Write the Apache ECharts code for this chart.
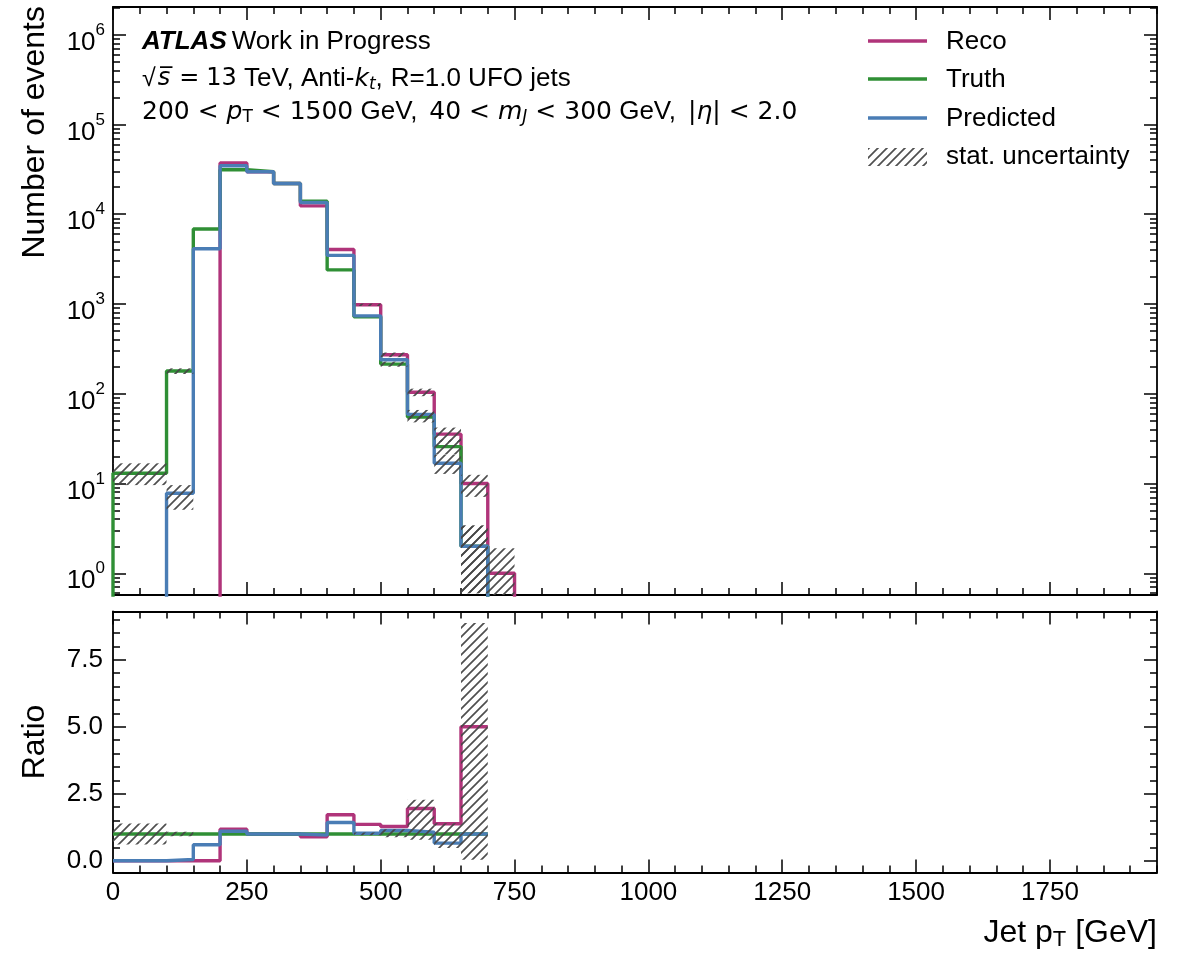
<!DOCTYPE html>
<html>
<head>
<meta charset="utf-8">
<script src="https://cdn.jsdelivr.net/npm/echarts@6/dist/echarts.min.js"></script>
<style>
  html, body { margin: 0; padding: 0; background: #ffffff; }
  #chart { width: 1183px; height: 954px; }
</style>
</head>
<body>
<div id="chart"></div>
<script>
// ---- histogram binning (GeV) ----
const binEdges = [0, 50, 100, 150, 200, 250, 300, 350, 400, 450, 500, 550, 600, 650, 700, 750];

// ---- event counts per bin ----
const recoCounts  = [0, 0, 0, 0, 37200, 29800, 22000, 12400, 4050, 980, 272, 104, 35.5, 10, 1];
const truthCounts = [13, 13, 179, 6840, 31300, 29800, 22000, 14000, 2400, 720, 214, 55, 25.8, 2, 0];
const predCounts  = [0, 0, 7.8, 4120, 34700, 29800, 22000, 13500, 3480, 738, 239, 59, 16.8, 2, 0];

// ---- statistical uncertainty bands (null where negligible) ----
const recoErrLow   = [null, null, null, null, null, null, null, null, null, 950, 256, 94, 29, 7.1, 0.3];
const recoErrHigh  = [null, null, null, null, null, null, null, null, null, 1010, 288, 114, 42, 12.5, 1.9];
const truthErrLow  = [9.6, 9.6, 166, null, null, null, null, null, null, null, 200, 48, 21, 0.6, null];
const truthErrHigh = [16.8, 16.8, 192, null, null, null, null, null, null, null, 228, 62, 31, 3.4, null];
const predErrLow   = [null, null, 5.1, null, null, null, null, null, null, null, null, 52, 12.8, 0.6, null];
const predErrHigh  = [null, null, 9.6, null, null, null, null, null, null, null, null, 66, 20.8, 3.4, null];

// ---- ratio to truth (bins 0-700 GeV) ----
const ratioReco  = [0, 0, 0, 0, 1.18, 1.0, 1.0, 0.9, 1.72, 1.36, 1.28, 1.95, 1.38, 5.0];
const ratioTruth = [1, 1, 1, 1, 1, 1, 1, 1, 1, 1, 1, 1, 1, 1];
const ratioPred  = [0, 0, 0.05, 0.6, 1.1, 1.0, 1.0, 0.96, 1.43, 1.03, 1.13, 1.07, 0.66, 1.0];
const ratioErrLow  = [0.61, 0.61, 0.92, null, null, null, null, null, null, 0.95, 0.88, 0.79, 0.48, 0.04];
const ratioErrHigh = [1.39, 1.39, 1.08, null, null, null, null, null, null, 1.06, 1.18, 2.28, 1.40, 8.87];

// ---- tick labels ----
const xTickLabels = [0, 250, 500, 750, 1000, 1250, 1500, 1750];
const logTickExponents = [0, 1, 2, 3, 4, 5, 6];
const ratioTickLabels = [0, 2.5, 5, 7.5];

// ---- axis ranges ----
const X_MIN = 0, X_MAX = 1950;
const LOG_MIN = -0.242, LOG_MAX = 6.309;   // log10(events)
const R_MIN = -0.436, R_MAX = 9.30;
const FLOOR = -3;                          // empty bins fall below the axis

const COLORS = { reco: '#b0347a', truth: '#2f8f35', pred: '#4a7db5' };
const FONT = 'Liberation Sans, Arial, sans-serif';
const MATH = 'DejaVu Sans, sans-serif';
const BLACK = '#000000';
const LINE_W = 3.4;

const lg = v => (v > 0 ? Math.log10(v) : FLOOR);

// step outline of a histogram: each bin contributes its two edges
function stepPoints(counts, useLog) {
  const pts = [];
  if (useLog) pts.push([binEdges[0], FLOOR]);
  counts.forEach((c, i) => {
    const y = useLog ? lg(c) : c;
    pts.push([binEdges[i], y], [binEdges[i + 1], y]);
  });
  if (useLog) pts.push([binEdges[counts.length], FLOOR]);
  return pts;
}

function bandItems(lo, hi, useLog) {
  const out = [];
  lo.forEach((l, i) => {
    if (l == null || hi[i] == null) return;
    out.push(useLog ? [binEdges[i], binEdges[i + 1], lg(l), lg(hi[i])]
                    : [binEdges[i], binEdges[i + 1], l, hi[i]]);
  });
  return out;
}

// diagonal hatch tile
function makeHatch() {
  const s = 9;
  const c = document.createElement('canvas');
  c.width = s; c.height = s;
  const ctx = c.getContext('2d');
  ctx.strokeStyle = 'rgba(70,70,70,0.95)';
  ctx.lineWidth = 1.7;
  ctx.beginPath();
  ctx.moveTo(0, s); ctx.lineTo(s, 0);
  ctx.moveTo(-2, 2); ctx.lineTo(2, -2);
  ctx.moveTo(s - 2, s + 2); ctx.lineTo(s + 2, s - 2);
  ctx.stroke();
  return c;
}
const hatchFill = { image: makeHatch(), repeat: 'repeat' };

// tick positions
const xMajor = xTickLabels.slice();
const xMinor = [];
for (let v = 0; v <= X_MAX; v += 50) if (v % 250 !== 0) xMinor.push(v);
const logMajor = logTickExponents.slice();
const logMinor = [];
for (let e = -1; e <= 6; e++) {
  for (let k = 2; k <= 9; k++) {
    const t = Math.log10(k) + e;
    if (t > LOG_MIN && t < LOG_MAX) logMinor.push(t);
  }
}
const rMajor = ratioTickLabels.slice();
const rMinor = [];
for (let v = 0; v <= 9.0001; v += 0.5) {
  const r = Math.round(v * 10) / 10;
  if (!rMajor.includes(r)) rMinor.push(r);
}

const lineStyleAxis = { show: true, onZero: false, lineStyle: { color: BLACK, width: 1.8 } };
const noLine = { show: false, onZero: false };
const tickStyle = { color: BLACK, width: 1.5 };
const TICK_FS = 26;

function makeXAxes(grid, labels) {
  const base = { type: 'value', gridIndex: grid, min: X_MIN, max: X_MAX, splitLine: { show: false } };
  const label = labels
    ? { show: true, customValues: xTickLabels, margin: 7, color: BLACK, fontSize: TICK_FS, fontFamily: FONT,
        formatter: v => String(v) }
    : { show: false };
  return [
    Object.assign({}, base, { position: 'bottom', axisLine: lineStyleAxis,
      axisTick: { show: true, inside: true, length: 13, lineStyle: tickStyle, customValues: xMajor }, axisLabel: label }),
    Object.assign({}, base, { position: 'bottom', axisLine: noLine,
      axisTick: { show: true, inside: true, length: 7, lineStyle: tickStyle, customValues: xMinor }, axisLabel: { show: false } }),
    Object.assign({}, base, { position: 'top', axisLine: lineStyleAxis,
      axisTick: { show: true, inside: true, length: 13, lineStyle: tickStyle, customValues: xMajor }, axisLabel: { show: false } }),
    Object.assign({}, base, { position: 'top', axisLine: noLine,
      axisTick: { show: true, inside: true, length: 7, lineStyle: tickStyle, customValues: xMinor }, axisLabel: { show: false } })
  ];
}

function makeYAxes(grid, min, max, major, minor, label) {
  const base = { type: 'value', gridIndex: grid, min: min, max: max, splitLine: { show: false } };
  return [
    Object.assign({}, base, { position: 'left', axisLine: lineStyleAxis,
      axisTick: { show: true, inside: true, length: 13, lineStyle: tickStyle, customValues: major }, axisLabel: label }),
    Object.assign({}, base, { position: 'left', axisLine: noLine,
      axisTick: { show: true, inside: true, length: 7, lineStyle: tickStyle, customValues: minor }, axisLabel: { show: false } }),
    Object.assign({}, base, { position: 'right', axisLine: lineStyleAxis,
      axisTick: { show: true, inside: true, length: 13, lineStyle: tickStyle, customValues: major }, axisLabel: { show: false } }),
    Object.assign({}, base, { position: 'right', axisLine: noLine,
      axisTick: { show: true, inside: true, length: 7, lineStyle: tickStyle, customValues: minor }, axisLabel: { show: false } })
  ];
}

const logLabel = {
  show: true, customValues: logTickExponents, margin: 8, fontFamily: FONT, color: BLACK,
  formatter: v => '{b|10}{s|' + Math.round(v) + '}',
  rich: {
    b: { fontSize: TICK_FS, fontFamily: FONT, color: BLACK, padding: [16, 0, 0, 0] },
    s: { fontSize: 17, fontFamily: FONT, color: BLACK, padding: [0, 0, 9, 0] }
  }
};
const ratioLabel = {
  show: true, customValues: ratioTickLabels, margin: 10, fontSize: TICK_FS, fontFamily: FONT, color: BLACK,
  formatter: v => Number(v).toFixed(1)
};

function histLine(name, pts, color, xi, yi, z) {
  return {
    name: name, type: 'line', xAxisIndex: xi, yAxisIndex: yi, data: pts,
    symbol: 'none', showSymbol: false, clip: true, z: z,
    lineStyle: { color: color, width: LINE_W }, itemStyle: { color: color }
  };
}

function hatchSeries(items, xi, yi) {
  return {
    type: 'custom', xAxisIndex: xi, yAxisIndex: yi, data: items, z: 5, clip: true,
    encode: { x: [0, 1], y: [2, 3] },
    renderItem: function (params, api) {
      const p0 = api.coord([api.value(0), api.value(3)]);
      const p1 = api.coord([api.value(1), api.value(2)]);
      const cs = params.coordSys;
      const rect = echarts.graphic.clipRectByRect(
        { x: p0[0], y: p0[1], width: p1[0] - p0[0], height: p1[1] - p0[1] },
        { x: cs.x, y: cs.y, width: cs.width, height: cs.height });
      return rect && { type: 'rect', shape: rect, style: { fill: hatchFill, stroke: null } };
    }
  };
}

const textBase = { fontFamily: FONT, fill: BLACK };
const LEG_FS = 26;

const legendEntries = [
  { label: 'Reco', color: COLORS.reco, y: 41 },
  { label: 'Truth', color: COLORS.truth, y: 79 },
  { label: 'Predicted', color: COLORS.pred, y: 118 }
];
const legendGraphics = [];
legendEntries.forEach(e => {
  legendGraphics.push({ type: 'line', shape: { x1: 868, y1: e.y, x2: 927, y2: e.y },
    style: { stroke: e.color, lineWidth: LINE_W } });
  legendGraphics.push({ type: 'text', x: 946, y: e.y + 1,
    style: Object.assign({}, textBase, { text: e.label, fontSize: LEG_FS, verticalAlign: 'middle' }) });
});
legendGraphics.push({ type: 'rect', shape: { x: 868, y: 148, width: 59, height: 18 },
  style: { fill: hatchFill, stroke: null } });
legendGraphics.push({ type: 'text', x: 946, y: 157,
  style: Object.assign({}, textBase, { text: 'stat. uncertainty', fontSize: LEG_FS, verticalAlign: 'middle' }) });

const INFO_FS = 26;
const MATH_FS = 25;
const infoRich = {
  a: { fontFamily: FONT, fontSize: INFO_FS, fontWeight: 'bold', fontStyle: 'italic', color: BLACK, padding: [0, 5, 0, 0] },
  r: { fontFamily: FONT, fontSize: INFO_FS, color: BLACK },
  rg: { fontFamily: FONT, fontSize: INFO_FS, color: BLACK, padding: [0, 12, 0, 0] },
  rc: { fontFamily: FONT, fontSize: INFO_FS, color: BLACK, padding: [0, 0, 0, 8] },
  sq: { fontFamily: FONT, fontSize: 25, color: BLACK },
  m: { fontFamily: MATH, fontSize: MATH_FS, color: BLACK },
  eq: { fontFamily: MATH, fontSize: 24, color: BLACK, padding: [0, 0, 0, 9] },
  n: { fontFamily: MATH, fontSize: 24, color: BLACK, padding: [0, 0, 0, 7] },
  i: { fontFamily: MATH, fontSize: MATH_FS, fontStyle: 'italic', color: BLACK },
  is: { fontFamily: MATH, fontSize: 24, fontStyle: 'italic', color: BLACK, padding: [0, 0, 0, 2] },
  sub: { fontFamily: MATH, fontSize: 17, color: BLACK, padding: [12, 0, 0, 0] },
  subi: { fontFamily: MATH, fontSize: 17, fontStyle: 'italic', color: BLACK, padding: [12, 0, 0, 0] }
};

const chart = echarts.init(document.getElementById('chart'), null, { renderer: 'canvas' });
chart.setOption({
  animation: false,
  backgroundColor: '#ffffff',
  grid: [
    { left: 113, right: 26, top: 7, height: 588 },
    { left: 113, right: 26, top: 611.5, height: 261 }
  ],
  xAxis: makeXAxes(0, false).concat(makeXAxes(1, true)),
  yAxis: makeYAxes(0, LOG_MIN, LOG_MAX, logMajor, logMinor, logLabel)
    .concat(makeYAxes(1, R_MIN, R_MAX, rMajor, rMinor, ratioLabel)),
  series: [
    histLine('Reco', stepPoints(recoCounts, true), COLORS.reco, 0, 0, 2),
    histLine('Truth', stepPoints(truthCounts, true), COLORS.truth, 0, 0, 3),
    histLine('Predicted', stepPoints(predCounts, true), COLORS.pred, 0, 0, 4),
    hatchSeries(bandItems(recoErrLow, recoErrHigh, true), 0, 0),
    hatchSeries(bandItems(truthErrLow, truthErrHigh, true), 0, 0),
    hatchSeries(bandItems(predErrLow, predErrHigh, true), 0, 0),
    histLine('Reco / Truth', stepPoints(ratioReco, false), COLORS.reco, 4, 4, 2),
    histLine('Truth / Truth', stepPoints(ratioTruth, false), COLORS.truth, 4, 4, 3),
    histLine('Predicted / Truth', stepPoints(ratioPred, false), COLORS.pred, 4, 4, 4),
    hatchSeries(bandItems(ratioErrLow, ratioErrHigh, false), 4, 4)
  ],
  graphic: [
    { type: 'text', x: 142, y: 42,
      style: Object.assign({}, textBase, { text: '{a|ATLAS}{r|Work in Progress}', rich: infoRich, verticalAlign: 'middle' }) },
    { type: 'text', x: 142, y: 79,
      style: Object.assign({}, textBase, {
        text: '{sq|\u221A}{is|s\u0305}{eq|=}{n|13}{r| TeV, Anti-}{i|k}{subi|t}{r|,}{rc|R=1.0 UFO jets}',
        rich: infoRich, verticalAlign: 'middle' }) },
    { type: 'text', x: 142, y: 112,
      style: Object.assign({}, textBase, {
        text: '{m|200 < }{i|p}{sub|T}{m| < 1500}{rg| GeV,}{m|40 < }{i|m}{subi|J}{m| < 300}{rg| GeV,}{m||}{i|\u03B7}{m|| < 2.0}',
        rich: infoRich, verticalAlign: 'middle' }) },
    { type: 'text', x: 35, y: 6, rotation: Math.PI / 2,
      style: Object.assign({}, textBase, { text: 'Number of events', fontSize: 32, align: 'right', verticalAlign: 'middle' }) },
    { type: 'text', x: 35, y: 742, rotation: Math.PI / 2,
      style: Object.assign({}, textBase, { text: 'Ratio', fontSize: 32, align: 'center', verticalAlign: 'middle' }) },
    { type: 'text', x: 1157, y: 933,
      style: Object.assign({}, textBase, {
        text: '{t|Jet p}{s|T}{t| [GeV]}', align: 'right', verticalAlign: 'middle',
        rich: {
          t: { fontFamily: FONT, fontSize: 32, color: BLACK },
          s: { fontFamily: FONT, fontSize: 22, color: BLACK, padding: [14, 0, 0, 0] }
        } }) }
  ].concat(legendGraphics)
});
</script>
</body>
</html>
